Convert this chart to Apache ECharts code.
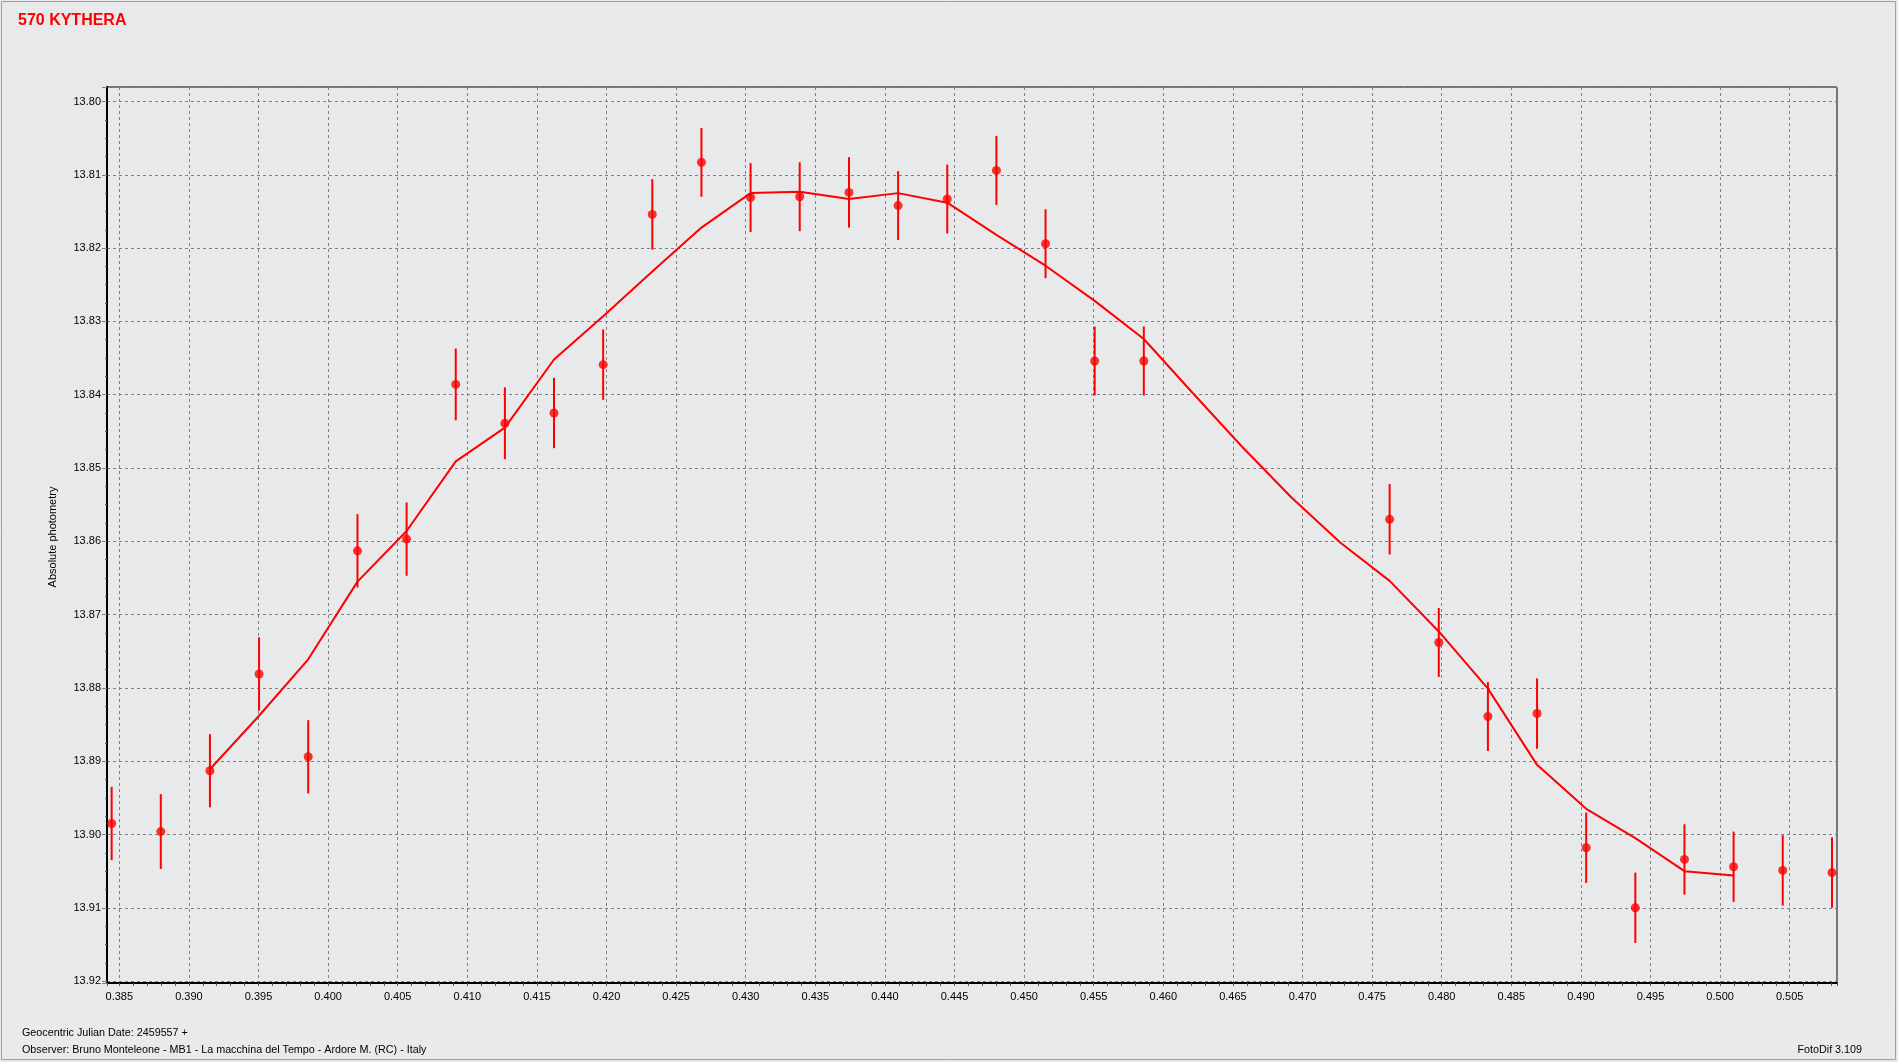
<!DOCTYPE html>
<html>
<head>
<meta charset="utf-8">
<style>
html,body{margin:0;padding:0;background:#E8E9EB;}
#chart{width:1898px;height:1062px;}
</style>
<script src="https://cdn.jsdelivr.net/npm/echarts@6/dist/echarts.min.js"></script>
</head>
<body>
<div id="chart"></div>
<script>
// Observations (Geocentric JD - 2459557), absolute magnitude, error
const obsX = [0.38445, 0.38798, 0.39151, 0.39504, 0.39857, 0.40211, 0.40564, 0.40917, 0.41270, 0.41623, 0.41976, 0.42329, 0.42682, 0.43035, 0.43388, 0.43742, 0.44095, 0.44448, 0.44801, 0.45154, 0.45507, 0.45860, 0.47626, 0.47979, 0.48332, 0.48685, 0.49038, 0.49391, 0.49744, 0.50097, 0.50450, 0.50804];
const obsMag = [13.8985, 13.8996, 13.8913, 13.8781, 13.8894, 13.8613, 13.8597, 13.8386, 13.8439, 13.8425, 13.8359, 13.8154, 13.8083, 13.8131, 13.8130, 13.8124, 13.8142, 13.8133, 13.8094, 13.8194, 13.8354, 13.8354, 13.8570, 13.8738, 13.8839, 13.8835, 13.9018, 13.9100, 13.9034, 13.9044, 13.9049, 13.9052];
const obsErr = [0.0050, 0.0051, 0.0050, 0.0050, 0.0050, 0.0050, 0.0050, 0.0049, 0.0049, 0.0048, 0.0048, 0.0048, 0.0047, 0.0047, 0.0047, 0.0048, 0.0047, 0.0047, 0.0047, 0.0047, 0.0047, 0.0047, 0.0048, 0.0047, 0.0047, 0.0048, 0.0048, 0.0048, 0.0048, 0.0048, 0.0048, 0.0048];
// Fitted light curve
const fitX = [0.39151, 0.39504, 0.39857, 0.40211, 0.40564, 0.40917, 0.41270, 0.41623, 0.41976, 0.42329, 0.42682, 0.43035, 0.43388, 0.43742, 0.44095, 0.44448, 0.44801, 0.45154, 0.45507, 0.45860, 0.46213, 0.46566, 0.46919, 0.47273, 0.47626, 0.47979, 0.48332, 0.48685, 0.49038, 0.49391, 0.49744, 0.50097];
const fitMag = [13.8911, 13.8838, 13.8761, 13.8655, 13.8586, 13.8491, 13.8445, 13.8352, 13.8293, 13.8232, 13.8172, 13.8125, 13.8123, 13.8133, 13.8125, 13.8138, 13.8182, 13.8224, 13.8272, 13.8324, 13.8398, 13.8471, 13.8540, 13.8602, 13.8654, 13.8723, 13.8801, 13.8905, 13.8965, 13.9005, 13.9050, 13.9056];

const titleText = '570 KYTHERA';
const yName = 'Absolute photometry';
const footer1 = 'Geocentric Julian Date: 2459557 +';
const footer2 = 'Observer: Bruno Monteleone - MB1 - La macchina del Tempo - Ardore M. (RC) - Italy';
const footer3 = 'FotoDif 3.109';

const FONT = '"Liberation Sans", Arial, sans-serif';
const RED = '#ff0000';

const chart = echarts.init(document.getElementById('chart'), null, {renderer: 'canvas'});

const obsData = obsX.map((x, i) => [x, obsMag[i], obsErr[i]]);
const fitData = fitX.map((x, i) => [x, fitMag[i]]);

const option = {
  backgroundColor: '#E8E9EB',
  animation: false,
  title: {
    text: titleText,
    left: 18, top: 13, padding: 0,
    textStyle: {color: RED, fontSize: 16, fontWeight: 'bold', fontFamily: FONT}
  },
  grid: {
    left: 107, top: 87, right: 61, bottom: 79,
    show: true, borderColor: '#000', borderWidth: 1, backgroundColor: 'transparent'
  },
  xAxis: {
    type: 'value',
    min: 0.384116, max: 0.508398,
    minInterval: 0.005, maxInterval: 0.005,
    axisLine: {show: true, onZero: false, lineStyle: {color: '#000', width: 2}},
    axisTick: {show: true, length: 3, lineStyle: {color: '#555'}},
    minorTick: {show: true, splitNumber: 5, length: 3, lineStyle: {color: '#555'}},
    splitLine: {show: true, lineStyle: {color: '#808080', type: [3, 3], width: 1}},
    axisLabel: {
      color: '#000', fontSize: 11, fontFamily: FONT, margin: 8,
      showMinLabel: false, showMaxLabel: false,
      formatter: v => (Math.abs(v / 0.005 - Math.round(v / 0.005)) < 1e-6) ? v.toFixed(3) : ''
    }
  },
  yAxis: {
    type: 'value',
    inverse: true,
    min: 13.798022, max: 13.920259,
    minInterval: 0.01, maxInterval: 0.01,
    axisLine: {show: true, onZero: false, lineStyle: {color: '#000', width: 2}},
    axisTick: {show: true, length: 5, lineStyle: {color: '#808080'}},
    minorTick: {show: true, splitNumber: 4, length: 2, lineStyle: {color: '#555'}},
    splitLine: {show: true, lineStyle: {color: '#808080', type: [3, 3], width: 1}},
    axisLabel: {
      color: '#000', fontSize: 11, fontFamily: FONT, margin: 6,
      showMinLabel: false, showMaxLabel: false,
      formatter: v => (Math.abs(v / 0.01 - Math.round(v / 0.01)) < 1e-6) ? v.toFixed(2) : ''
    }
  },
  series: [
    {
      type: 'line',
      data: fitData,
      showSymbol: false,
      symbol: 'none',
      lineStyle: {color: RED, width: 2},
      z: 2,
      silent: true
    },
    {
      type: 'custom',
      data: obsData,
      z: 3,
      renderItem: function (params, api) {
        const x = api.value(0), m = api.value(1), e = api.value(2);
        const p1 = api.coord([x, m - e]);
        const p2 = api.coord([x, m + e]);
        return {
          type: 'line',
          shape: {x1: p1[0], y1: p1[1], x2: p2[0], y2: p2[1]},
          style: {stroke: RED, lineWidth: 2}
        };
      },
      encode: {x: 0, y: 1},
      silent: true
    },
    {
      type: 'scatter',
      data: obsData,
      symbol: 'circle',
      symbolSize: 9,
      itemStyle: {color: RED},
      z: 4,
      silent: true
    }
  ],
  graphic: [
    {type: 'rect', z: -10, silent: true, shape: {x: 1, y: 1012, width: 1895, height: 47}, style: {fill: '#EBEAE8'}},
    {type: 'rect', z: 100, silent: true, shape: {x: 1.5, y: 1.5, width: 1894, height: 1058}, style: {fill: 'none', stroke: '#A0A0A0', lineWidth: 1}},
    {type: 'text', z: 100, x: 53, y: 537, rotation: Math.PI / 2, silent: true,
      style: {text: yName, fill: '#000', font: '11px ' + FONT, textAlign: 'center', textVerticalAlign: 'middle'}},
    {type: 'text', z: 100, x: 22, y: 1033, silent: true,
      style: {text: footer1, fill: '#000', font: '10.75px ' + FONT, textAlign: 'left', textVerticalAlign: 'middle'}},
    {type: 'text', z: 100, x: 22, y: 1050, silent: true,
      style: {text: footer2, fill: '#000', font: '10.75px ' + FONT, textAlign: 'left', textVerticalAlign: 'middle'}},
    {type: 'text', z: 100, x: 1862, y: 1050, silent: true,
      style: {text: footer3, fill: '#000', font: '10.75px ' + FONT, textAlign: 'right', textVerticalAlign: 'middle'}}
  ]
};
chart.setOption(option);
</script>
</body>
</html>
